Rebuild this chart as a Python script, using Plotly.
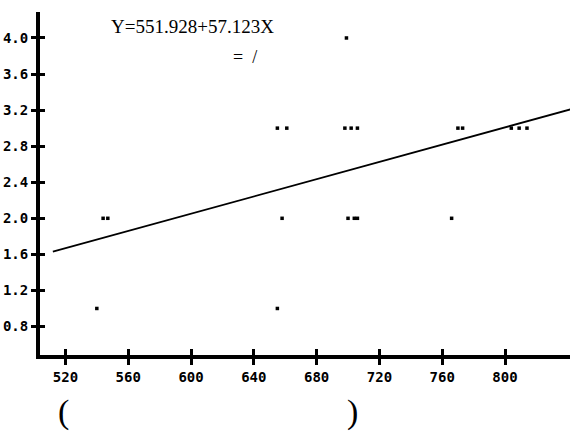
import plotly.graph_objects as go

# scatter data (x, y)
pts_x = [540, 655, 544, 547, 658, 700, 704, 706, 766,
         655, 661, 698, 702, 706, 770, 773, 804, 809, 814, 699]
pts_y = [1.0, 1.0, 2.0, 2.0, 2.0, 2.0, 2.0, 2.0, 2.0,
         3.0, 3.0, 3.0, 3.0, 3.0, 3.0, 3.0, 3.0, 3.0, 3.0, 4.0]

# regression line end points
line_x = [512, 842]
line_y = [1.63, 3.21]

x_ticks = [520, 560, 600, 640, 680, 720, 760, 800]
y_ticks = [0.8, 1.2, 1.6, 2.0, 2.4, 2.8, 3.2, 3.6, 4.0]
y_labels = ["0.8", "1.2", "1.6", "2.0", "2.4", "2.8", "3.2", "3.6", "4.0"]

equation = "Y=551.928+57.123X"

xr = [503.8, 841.4]
yr = [0.484, 4.288]

tickfont = dict(family="DejaVu Sans Mono", size=14, color="black", weight="bold")

fig = go.Figure()
fig.add_trace(go.Scatter(x=line_x, y=line_y, mode="lines",
                         line=dict(color="black", width=1.8), showlegend=False))
fig.add_trace(go.Scatter(x=pts_x, y=pts_y, mode="markers",
                         marker=dict(symbol="square", size=3.5, color="black",
                                     line=dict(width=0)), showlegend=False))
# helper trace on overlay axes for inside ticks
fig.add_trace(go.Scatter(x=[], y=[], xaxis="x2", yaxis="y2", showlegend=False))

fig.update_layout(
    width=570, height=433,
    margin=dict(l=39.5, r=0, t=12, b=77.5),
    paper_bgcolor="white", plot_bgcolor="white",
    xaxis=dict(range=xr, tickvals=x_ticks, ticktext=[str(v) for v in x_ticks],
               showgrid=False, zeroline=False, showline=True, linecolor="black",
               linewidth=4, ticks="outside", ticklen=6, tickwidth=3,
               tickcolor="black", tickfont=tickfont),
    yaxis=dict(range=yr, tickvals=y_ticks, ticktext=y_labels,
               showgrid=False, zeroline=False, showline=True, linecolor="black",
               linewidth=4, ticks="outside", ticklen=5, tickwidth=3,
               tickcolor="black", tickfont=tickfont),
    xaxis2=dict(range=xr, tickvals=x_ticks, overlaying="x", anchor="y",
                showgrid=False, zeroline=False, showline=False, ticks="inside",
                ticklen=6, tickwidth=3, tickcolor="black", showticklabels=False),
    yaxis2=dict(range=yr, tickvals=y_ticks, overlaying="y", anchor="x",
                showgrid=False, zeroline=False, showline=False, ticks="inside",
                ticklen=5, tickwidth=3, tickcolor="black", showticklabels=False),
    annotations=[
        dict(text=equation, xref="paper", yref="paper", x=0.2875, y=0.959,
             showarrow=False, xanchor="center", yanchor="middle",
             font=dict(family="Liberation Serif", size=19, color="black")),
        dict(text="=  /", xref="paper", yref="paper", x=0.387, y=0.869,
             showarrow=False, xanchor="center", yanchor="middle",
             font=dict(family="Liberation Serif", size=18, color="black")),
        dict(text="(", xref="paper", yref="paper", x=0.044, y=-0.167,
             showarrow=False, xanchor="center", yanchor="middle",
             font=dict(family="Liberation Serif", size=34, color="black")),
        dict(text=")", xref="paper", yref="paper", x=0.589, y=-0.167,
             showarrow=False, xanchor="center", yanchor="middle",
             font=dict(family="Liberation Serif", size=34, color="black")),
    ],
)

fig.write_html("out.html", config={"displayModeBar": False},
               post_script="document.body.style.margin='0';")
